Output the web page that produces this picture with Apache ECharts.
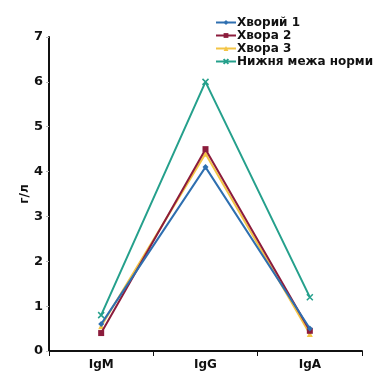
<!DOCTYPE html>
<html><head><meta charset="utf-8">
<script src="https://cdn.jsdelivr.net/npm/echarts@6/dist/echarts.min.js"></script>
<style>html,body{margin:0;padding:0;background:#fff}#c{width:374px;height:374px}</style>
</head><body><div id="c"></div>
<script>
const categories = ['IgM', 'IgG', 'IgA'];
const seriesNames = ['Хворий 1', 'Хвора 2', 'Хвора 3', 'Нижня межа норми'];
const patient1 = [0.6, 4.1, 0.5];
const patient2 = [0.4, 4.5, 0.45];
const patient3 = [0.55, 4.4, 0.38];
const normLow = [0.8, 6.0, 1.2];
const yTicks = [0, 1, 2, 3, 4, 5, 6, 7];

const colors = ['#2e6fb0', '#8c1c3c', '#f3c445', '#25a08c'];
const symbols = ['diamond', 'rect', 'triangle', 'path://M0,0L10,10M10,0L0,10'];
const data = [patient1, patient2, patient3, normLow];
const font = 'DejaVu Sans';

const chart = echarts.init(document.getElementById('c'));
chart.setOption({
  animation: false,
  backgroundColor: '#fff',
  grid: { left: 49, right: 12, top: 37, bottom: 23, containLabel: false },
  legend: {
    orient: 'vertical', left: 210, top: 11, itemGap: 0,
    itemWidth: 20, itemHeight: 6,
    textStyle: { fontFamily: font, fontWeight: 'bold', fontSize: 12, lineHeight: 13, color: '#111', padding: [0,0,0,-4] },
    data: seriesNames
  },
  xAxis: {
    type: 'category', data: categories, boundaryGap: true,
    axisLine: { lineStyle: { color: '#111', width: 2 } },
    axisTick: { show: true, length: 5, lineStyle: { color: '#111', width: 1 } },
    axisLabel: { fontFamily: font, fontWeight: 'bold', fontSize: 12, color: '#111', margin: 8 }
  },
  yAxis: {
    type: 'value', min: yTicks[0], max: yTicks[yTicks.length-1], interval: 1,
    name: 'г/л', nameLocation: 'middle', nameGap: 18, nameRotate: 90, nameMoveOverlap: false,
    nameTextStyle: { fontFamily: font, fontWeight: 'bold', fontSize: 12, color: '#111' },
    splitLine: { show: false },
    axisLine: { show: true, lineStyle: { color: '#111', width: 2 } },
    axisTick: { show: true, length: 3, lineStyle: { color: '#bbb', width: 1 } },
    axisLabel: { fontFamily: font, fontWeight: 'bold', fontSize: 13, color: '#111', margin: 6 }
  },
  series: seriesNames.map((n, i) => ({
    name: n, type: 'line', data: data[i],
    symbol: symbols[i], symbolSize: 6,
    lineStyle: { color: colors[i], width: 2 },
    itemStyle: { color: colors[i], borderColor: colors[i], borderWidth: i === 3 ? 1.5 : 0 },
    z: 10 - i
  }))
});
</script></body></html>
